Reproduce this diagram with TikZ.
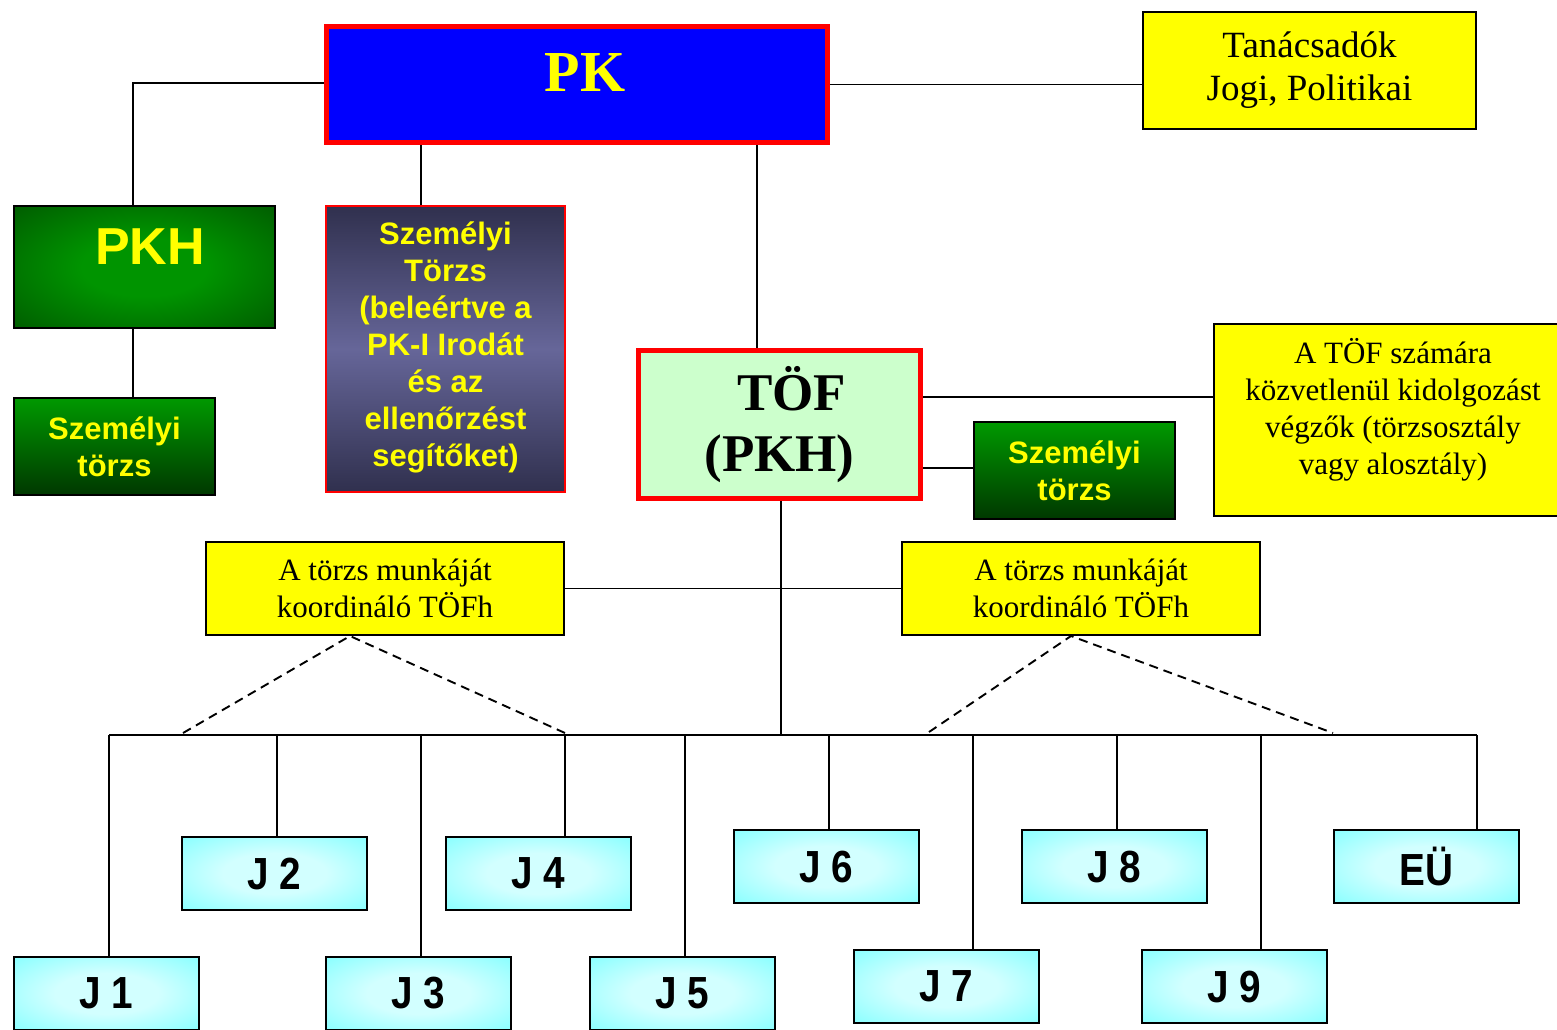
\documentclass[tikz,border=0pt]{standalone}
\usepackage{fontspec}
\setmainfont{Liberation Serif}
\setsansfont{Liberation Sans}
\newfontfamily\narrowsans[FakeStretch=0.86]{Liberation Sans}
\definecolor{boxyellow}{HTML}{FFFF00}
\definecolor{pkblue}{HTML}{0000FF}
\definecolor{frame}{HTML}{FF0000}
\definecolor{tofgreen}{HTML}{CCFFCC}
\definecolor{cyanlight}{HTML}{D2FFFF}
\definecolor{cyanedge}{HTML}{66FFFF}
\definecolor{greenmid}{HTML}{009400}
\definecolor{greendark}{HTML}{004000}
\definecolor{greentop}{HTML}{009900}
\definecolor{greenbot}{HTML}{003800}
\definecolor{violetdark}{HTML}{30304E}
\definecolor{violetmid}{HTML}{666699}
\pgfdeclareradialshading{cyanglow}{\pgfpoint{0bp}{0bp}}{color(0bp)=(cyanlight); color(14bp)=(cyanlight); color(46bp)=(cyanedge); color(100bp)=(cyanedge)}
\pgfdeclareradialshading{greenglow}{\pgfpoint{0bp}{0bp}}{color(0bp)=(greenmid); color(12bp)=(greenmid); color(48bp)=(greendark); color(100bp)=(greendark)}
\begin{document}
\begin{tikzpicture}[x=1pt,y=-1pt,
  box/.style={draw=black, line width=2pt, rectangle, inner sep=0pt, align=center},
  conn/.style={line width=1.9pt},
  dashconn/.style={line width=1.9pt, dash pattern=on 9pt off 6pt},
  yellowbox/.style={box, fill=boxyellow, font=\fontsize{31}{36.5}\selectfont},
  greenbox/.style={box, top color=greentop, bottom color=greenbot,
    text=boxyellow, font=\sffamily\bfseries\fontsize{31}{37}\selectfont},
  jbox/.style={box, minimum width=185pt, minimum height=73pt, shade, shading=cyanglow,
    font=\narrowsans\bfseries\fontsize{45}{45}\selectfont}]
\useasboundingbox (0,0) rectangle (1557,1029);
\fill[white] (0,0) rectangle (1557,1029);
\clip (0,0) rectangle (1557,1029);

% top level
\node[box, draw=frame, line width=5pt, fill=pkblue, minimum width=501pt, minimum height=116pt] (pk) at (577,84.5) {};
\node[text=boxyellow, font=\bfseries\fontsize{58}{58}\selectfont] (pklabel) at (585,73) {PK};
\node[yellowbox, minimum width=333pt, minimum height=117pt, font=\fontsize{37}{44}\selectfont] (tan) at (1309.5,70.5) {Tanácsadók\\[-1pt]Jogi, Politikai};

% left column
\node[box, shade, shading=greenglow, minimum width=261pt, minimum height=122pt] (pkh) at (144.5,267) {};
\node[text=boxyellow, font=\sffamily\bfseries\fontsize{52}{52}\selectfont] (pkhlabel) at (150,247) {PKH};
\node[greenbox, minimum width=201pt, minimum height=97pt] (szt1) at (114.5,446.5) {Személyi\\törzs};
\node[box, draw=frame, line width=2pt, top color=violetdark, bottom color=violetdark, middle color=violetmid,
  minimum width=239pt, minimum height=286pt, text=boxyellow,
  font=\sffamily\bfseries\fontsize{31}{37}\selectfont] (szt0) at (445.5,349) {};
\node[text=boxyellow, align=center, font=\sffamily\bfseries\fontsize{31}{37}\selectfont] (szt0label) at (445.5,347)
  {Személyi\\Törzs\\(beleértve a\\PK-I Irodát\\és az\\ellenőrzést\\segítőket)};

% chief of staff
\node[box, draw=frame, line width=5pt, fill=tofgreen, minimum width=282pt, minimum height=148pt,
  font=\bfseries\fontsize{53}{61}\selectfont] (tof) at (779.5,424.5) {\hspace*{24pt}TÖF\\(PKH)};
\node[yellowbox, minimum width=358pt, minimum height=192pt] (atof) at (1393,420) {};
\node[align=center, font=\fontsize{31}{37}\selectfont] (atoflabel) at (1393,410)
  {A TÖF számára\\közvetlenül kidolgozást\\végzők (törzsosztály\\vagy alosztály)};
\node[greenbox, minimum width=201pt, minimum height=97pt] (szt2) at (1074.5,470.5) {Személyi\\törzs};

% coordinating deputies
\node[yellowbox, minimum width=358pt, minimum height=93pt] (kl) at (385,588.5) {A törzs munkáját\\koordináló TÖFh};
\node[yellowbox, minimum width=358pt, minimum height=93pt] (kr) at (1081,588.5) {A törzs munkáját\\koordináló TÖFh};

% staff divisions
\node[jbox] (j1) at (106.5,993.5) {J 1};
\node[jbox] (j2) at (274.5,873.5) {J 2};
\node[jbox] (j3) at (418.5,993.5) {J 3};
\node[jbox] (j4) at (538.5,873.5) {J 4};
\node[jbox] (j5) at (682.5,993.5) {J 5};
\node[jbox] (j6) at (826.5,866.5) {J 6};
\node[jbox] (j7) at (946.5,986.5) {J 7};
\node[jbox] (j8) at (1114.5,866.5) {J 8};
\node[jbox] (j9) at (1234.5,986.5) {J 9};
\node[jbox] (eu) at (1426.5,866.5) {EÜ};

% bus and dashed ends
\coordinate (busL) at (109,735);
\coordinate (busR) at (1477,735);
\coordinate (dl1) at (183,733);
\coordinate (dl2) at (565,733);
\coordinate (dr1) at (929,732);
\coordinate (dr2) at (1333,733);

% connectors
\draw[conn] ([yshift=1.5pt]pk.west) -| ([xshift=-11.5pt]pkh.north);
\draw[conn] ([xshift=-11.5pt]pkh.south) -- ([xshift=-11.5pt]pkh.south |- szt1.north);
\draw[conn] (pk.east) -- (pk.east -| tan.west);
\draw[conn] ([xshift=-24.5pt]szt0.north) -- ([xshift=-24.5pt]szt0.north |- pk.south);
\draw[conn] ([xshift=-22.5pt]tof.north) -- ([xshift=-22.5pt]tof.north |- pk.south);
\draw[conn] ([yshift=27.5pt]tof.east) -- ([yshift=27.5pt]tof.east -| atof.west);
\draw[conn] ([yshift=2.5pt]szt2.west) -- ([yshift=2.5pt]szt2.west -| tof.east);
\draw[conn] ([xshift=1.5pt]tof.south) -- ([xshift=1.5pt]tof.south |- busL);
\draw[conn] (kl.east) -- (kr.west);
\draw[conn] (busL) -- (busR);
\foreach \n/\dx in {j1/2.5, j2/2.5, j3/2.5, j4/26.5, j5/2.5, j6/2.5, j7/26.5, j8/2.5, j9/26.5, eu/50.5}
  \draw[conn] ([xshift=\dx pt]\n.north) -- ([xshift=\dx pt]\n.north |- busL);
\draw[dashconn] (dl1) -- ([xshift=-35pt]kl.south) -- (dl2);
\draw[dashconn] (dr1) -- ([xshift=-10pt]kr.south) -- (dr2);
\end{tikzpicture}
\end{document}
